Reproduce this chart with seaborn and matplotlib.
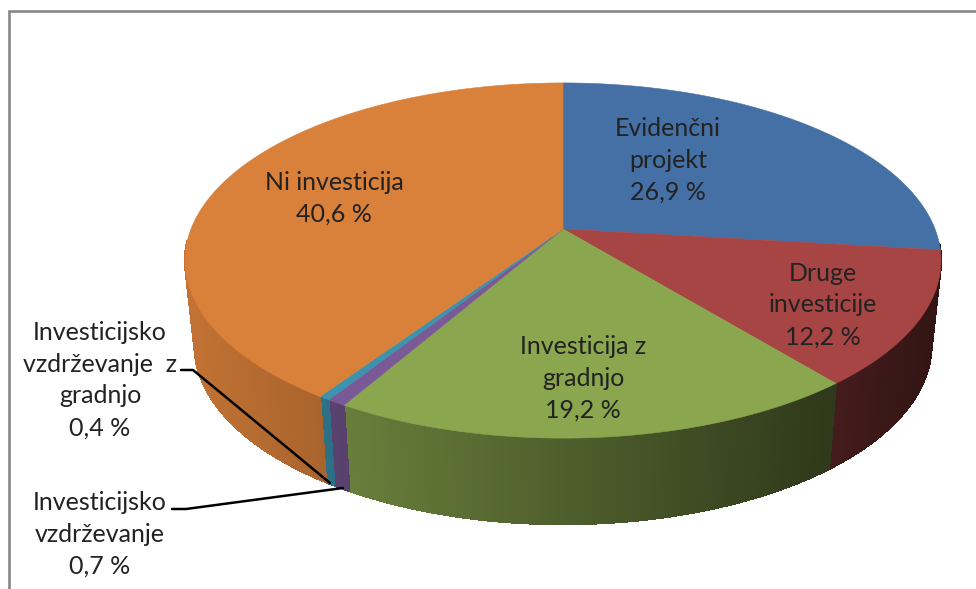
import numpy as np
import matplotlib
matplotlib.use("Agg")
import matplotlib.pyplot as plt
from matplotlib.collections import PolyCollection
from matplotlib.colors import to_rgb
import seaborn as sns

# shares, clockwise from 12 o'clock
labels = ["Evidenčni\nprojekt", "Druge\ninvesticije", "Investicija z\ngradnjo",
          "Investicijsko\nvzdrževanje", "Investicijsko\nvzdrževanje  z\ngradnjo", "Ni investicija"]
shares = [26.9, 12.2, 19.2, 0.7, 0.4, 40.6]
colors = ["#4570A6", "#A64543", "#8AA64E", "#7A5A96", "#3C93AE", "#D9803A"]
wall_factor = [1.0, 1.2, 1.0, 0.95, 0.98, 1.0]

# label centres in pixels
label_pos = [(668, 160), (823, 305), (583, 378), (100, 534), (100, 380), (334, 198)]

sns.set_theme(style="white")
plt.rcParams["font.family"] = ["Lato", "DejaVu Sans"]

CX, CY = 563, 229
K = 0.1775   # perspective of the disc
RX, RY = 372, 172


def disc(theta, scale_x=1.0, scale_y=1.0, drop=0.0):
    x_u = np.sin(theta)
    y_u = np.cos(theta)
    w = 1 + K * y_u
    return CX + scale_x * RX * x_u / w, CY + drop - scale_y * RY * y_u / w


def shade(x):
    return np.clip(0.88 - (x - 200) * 0.00085, 0, 1)


fig, ax = plt.subplots(figsize=(9.76, 5.89), dpi=100)
fig.subplots_adjust(0, 0, 1, 1)
ax.set_xlim(0, 976)
ax.set_ylim(589, 0)
ax.axis("off")

edges = np.radians(np.concatenate([[0], np.cumsum(shares) / np.sum(shares) * 360]))

# side wall, drawn as thin strips so the light can fall off to the right
for i in range(len(shares)):
    lo = max(edges[i], np.radians(95))
    hi = min(edges[i + 1], np.radians(266))
    if hi <= lo:
        continue
    t = np.linspace(lo, hi, max(2, int(np.degrees(hi - lo) * 2) + 1))
    xt, yt = disc(t)
    xb, yb = disc(t, 0.975, 1.01, 84)
    base = np.array(to_rgb(colors[i]))
    mid = base * wall_factor[i] * shade((xt[0] + xt[-1]) / 2)
    # solid underlay hides the seams and keeps the outer edge smooth
    ax.fill(np.r_[xt, xb[::-1]], np.r_[yt, yb[::-1]], facecolor=np.clip(mid, 0, 1), edgecolor="none")
    polys = []
    cols = []
    for j in range(len(t) - 1):
        polys.append([(xt[j], yt[j]), (xt[j + 1], yt[j + 1]), (xb[j + 1], yb[j + 1]), (xb[j], yb[j])])
        cols.append(np.clip(base * shade((xt[j] + xt[j + 1]) / 2) * wall_factor[i], 0, 1))
    ax.add_collection(PolyCollection(polys, facecolors=cols, edgecolors=cols, linewidths=0.8, antialiaseds=False))

# top face
for i, col in enumerate(colors):
    t = np.linspace(edges[i], edges[i + 1], 200)
    x, y = disc(t)
    ax.fill(np.r_[CX, x], np.r_[CY, y], facecolor=col, edgecolor=col, linewidth=0.4)

# leader lines
ax.plot([181, 193, 330], [370, 370, 483], color="black", lw=1.8)
ax.plot([172, 186, 343], [509, 509, 488], color="black", lw=1.8)

# chart frame, only top and left are in the crop
ax.plot([8.5, 8.5, 976], [589, 11, 11], color="#878787", lw=1.9, solid_joinstyle="miter")

for name, share, (lx, ly) in zip(labels, shares, label_pos):
    txt = name + "\n" + f"{share:.1f}".replace(".", ",") + " %"
    ax.text(lx, ly, txt, ha="center", va="center", fontsize=18, color="#222222", linespacing=1.47)

fig.savefig("out.png", dpi=100, facecolor="white")
